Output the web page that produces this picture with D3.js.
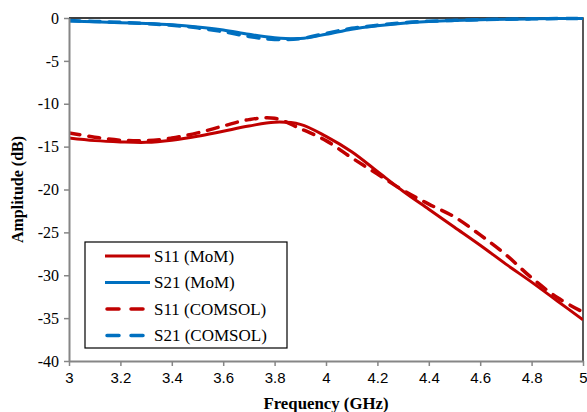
<!DOCTYPE html>
<html>
<head>
<meta charset="utf-8">
<script src="https://cdn.jsdelivr.net/npm/d3@7"></script>
<style>
  body { margin: 0; background: #fff; }
  svg { display: block; }
</style>
</head>
<body>
<svg id="chart" width="587" height="412"></svg>
<script>
// frequency samples (GHz)
const freq = [3.0, 3.1, 3.2, 3.3, 3.4, 3.5, 3.6, 3.7, 3.8, 3.9, 4.0,
              4.1, 4.2, 4.3, 4.4, 4.5, 4.6, 4.7, 4.8, 4.9, 5.0];
const s11Mom    = [-14.0, -14.3, -14.45, -14.5, -14.25, -13.8, -13.2, -12.6, -12.15, -12.4, -13.8,
                   -15.6, -17.9, -20.2, -22.3, -24.4, -26.5, -28.7, -30.8, -33.0, -35.2];
const s21Mom    = [-0.35, -0.45, -0.55, -0.65, -0.8, -1.05, -1.4, -1.9, -2.3, -2.4, -1.9,
                   -1.3, -0.9, -0.6, -0.4, -0.28, -0.2, -0.15, -0.1, -0.07, -0.05];
const s11Comsol = [-13.4, -13.9, -14.25, -14.3, -14.0, -13.4, -12.6, -11.85, -11.7, -12.9, -14.3,
                   -16.3, -18.2, -20.1, -21.7, -23.2, -25.3, -27.6, -30.3, -32.6, -34.3];
const s21Comsol = [-0.3, -0.4, -0.5, -0.65, -0.85, -1.15, -1.6, -2.15, -2.5, -2.4, -1.8,
                   -1.2, -0.85, -0.55, -0.38, -0.27, -0.2, -0.14, -0.1, -0.07, -0.05];
const xTicks = [3, 3.2, 3.4, 3.6, 3.8, 4, 4.2, 4.4, 4.6, 4.8, 5];
const yTicks = [0, -5, -10, -15, -20, -25, -30, -35, -40];
const seriesNames = ["S11 (MoM)", "S21 (MoM)", "S11 (COMSOL)", "S21 (COMSOL)"];

const RED = "#c00000", BLUE = "#0070c0";
const series = [
  { name: seriesNames[0], vals: s11Mom,    color: RED,  dash: null },
  { name: seriesNames[1], vals: s21Mom,    color: BLUE, dash: null },
  { name: seriesNames[2], vals: s11Comsol, color: RED,  dash: "11,9" },
  { name: seriesNames[3], vals: s21Comsol, color: BLUE, dash: "11,9" }
];

const W = 587, H = 412;
const m = { top: 18, right: 4, bottom: 51, left: 69 };
const svg = d3.select("#chart");
const serif = "'Liberation Serif', 'Times New Roman', serif";
const sans = "'Liberation Sans', Arial, sans-serif";

const x = d3.scaleLinear().domain([3, 5]).range([m.left, W - m.right]);
const y = d3.scaleLinear().domain([-40, 0]).range([H - m.bottom, m.top]);

// clip so lines stay inside the plot
svg.append("clipPath").attr("id", "clip")
  .append("rect").attr("x", m.left).attr("y", m.top - 2)
  .attr("width", x(5) - m.left).attr("height", y(-40) - m.top + 2);

// top and right border
svg.append("path")
  .attr("d", `M${m.left},${y(0)}H${x(5)}V${y(-40)}`)
  .attr("fill", "none").attr("stroke", "#000").attr("stroke-width", 1.3);

// lines
const line = d3.line()
  .x((d, i) => x(freq[i]))
  .y(d => y(d))
  .curve(d3.curveCatmullRom.alpha(0.5));

svg.append("g").attr("clip-path", "url(#clip)")
  .selectAll("path.series")
  .data(series)
  .join("path")
  .attr("class", "series")
  .attr("d", d => line(d.vals))
  .attr("fill", "none")
  .attr("stroke", d => d.color)
  .attr("stroke-width", d => d.dash ? 3.5 : 3)
  .attr("stroke-dasharray", d => d.dash)
  .attr("stroke-linecap", d => d.dash ? "round" : "butt");

// axes
const xAxis = svg.append("g")
  .attr("transform", `translate(0,${y(-40)})`)
  .call(d3.axisBottom(x).tickValues(xTicks).tickSize(5).tickSizeOuter(0).tickFormat(d => String(d)));
const yAxis = svg.append("g")
  .attr("transform", `translate(${m.left},0)`)
  .call(d3.axisLeft(y).tickValues(yTicks).tickSize(5).tickSizeOuter(0).tickFormat(d => String(d)));

[xAxis, yAxis].forEach(a => {
  a.attr("font-family", null);
  a.select(".domain").attr("stroke", "#868686").attr("stroke-width", 2);
  a.selectAll(".tick line").attr("stroke", "#868686").attr("stroke-width", 1.5);
});
xAxis.selectAll(".tick text")
  .attr("font-family", sans).attr("font-size", 15).attr("fill", "#000").attr("dy", "1em").attr("y", 7);
yAxis.selectAll(".tick text")
  .attr("font-family", serif).attr("font-size", 16).attr("fill", "#000").attr("x", -10);

// axis titles
svg.append("text")
  .attr("x", (m.left + x(5)) / 2).attr("y", 409)
  .attr("text-anchor", "middle")
  .attr("font-family", serif).attr("font-weight", "bold").attr("font-size", 16.8)
  .text("Frequency (GHz)");
svg.append("text")
  .attr("transform", `translate(23,${(y(0) + y(-40)) / 2}) rotate(-90)`)
  .attr("text-anchor", "middle")
  .attr("font-family", serif).attr("font-weight", "bold").attr("font-size", 16)
  .text("Amplitude (dB)");

// legend
const lg = svg.append("g").attr("transform", "translate(85,242)");
lg.append("rect").attr("width", 202).attr("height", 106)
  .attr("fill", "#fff").attr("stroke", "#000").attr("stroke-width", 1.2);
const rows = lg.selectAll("g.row").data(series).join("g")
  .attr("class", "row")
  .attr("transform", (d, i) => `translate(0,${14 + i * 26.5})`);
rows.append("line")
  .attr("x1", d => d.dash ? 22 : 20).attr("x2", d => d.dash ? 62 : 65)
  .attr("stroke", d => d.color)
  .attr("stroke-width", d => d.dash ? 3.5 : 3)
  .attr("stroke-dasharray", d => d.dash ? "12,12" : null)
  .attr("stroke-linecap", d => d.dash ? "round" : "butt");
rows.append("text")
  .attr("x", 69).attr("dy", "0.35em")
  .attr("font-family", serif).attr("font-size", 17)
  .text(d => d.name);
</script>
</body>
</html>
